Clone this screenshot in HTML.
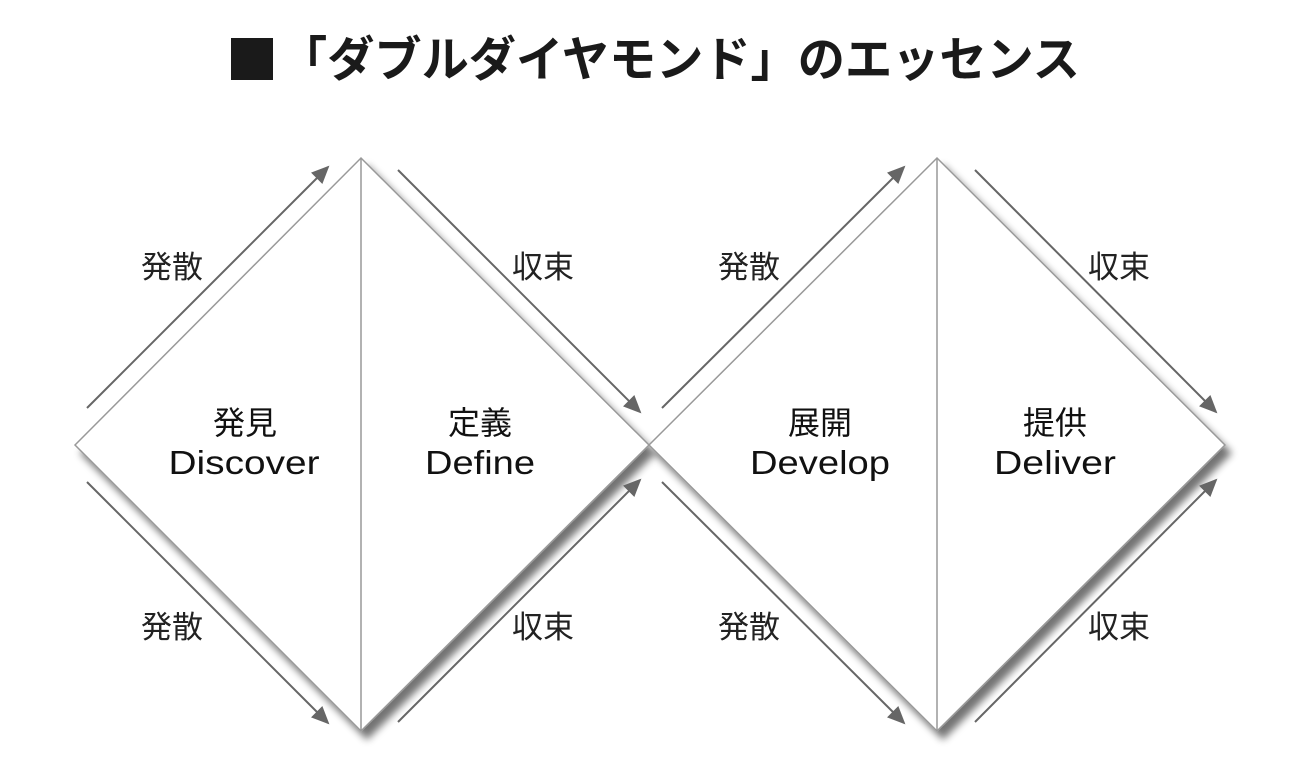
<!DOCTYPE html>
<html><head><meta charset="utf-8">
<style>
html,body{margin:0;padding:0;background:#fff;}
body{width:1300px;height:783px;overflow:hidden;}
svg{display:block;}
</style></head>
<body>
<svg width="1300" height="783" viewBox="0 0 1300 783" xmlns="http://www.w3.org/2000/svg">
<defs>
<filter id="sh" x="-10%" y="-10%" width="130%" height="130%">
<feGaussianBlur in="SourceAlpha" stdDeviation="4"/>
<feOffset dx="6" dy="8" result="b"/>
<feComponentTransfer><feFuncA type="linear" slope="0.55"/></feComponentTransfer>
<feMerge><feMergeNode/><feMergeNode in="SourceGraphic"/></feMerge>
</filter>
<marker id="ah" markerWidth="9" markerHeight="8" refX="8" refY="4" orient="auto" markerUnits="strokeWidth">
<path d="M0,0 L9,4 L0,8 z" fill="#666"/>
</marker>
</defs>
<rect x="231" y="38" width="42" height="42" fill="#1a1a1a"/>
<text x="680" y="76" text-anchor="middle" font-family="'Liberation Sans','Noto Sans CJK JP',sans-serif" font-weight="bold" font-size="48" fill="#1a1a1a" textLength="800" lengthAdjust="spacingAndGlyphs">「ダブルダイヤモンド」のエッセンス</text>

<g filter="url(#sh)">
<polygon points="75,445 361,158 649,445 361,731" fill="#fff" stroke="#999" stroke-width="1.5"/>
<polygon points="649,445 937,158 1225,445 937,731" fill="#fff" stroke="#999" stroke-width="1.5"/>
</g>
<line x1="361" y1="158" x2="361" y2="731" stroke="#999" stroke-width="1.5"/>
<line x1="937" y1="158" x2="937" y2="731" stroke="#999" stroke-width="1.5"/>

<g stroke="#666" stroke-width="2" marker-end="url(#ah)">
<line x1="87" y1="408" x2="328" y2="167"/>
<line x1="398" y1="170" x2="640" y2="412"/>
<line x1="87" y1="482" x2="328" y2="723"/>
<line x1="398" y1="722" x2="640" y2="480"/>
<line x1="662" y1="408" x2="904" y2="167"/>
<line x1="975" y1="170" x2="1216" y2="412"/>
<line x1="662" y1="482" x2="904" y2="723"/>
<line x1="975" y1="722" x2="1216" y2="480"/>
</g>

<g font-family="'Liberation Sans','Noto Sans CJK JP',sans-serif" font-size="31" fill="#222" text-anchor="middle">
<text x="172" y="278">発散</text>
<text x="172" y="638">発散</text>
<text x="543" y="278">収束</text>
<text x="543" y="638">収束</text>
<text x="749" y="278">発散</text>
<text x="749" y="638">発散</text>
<text x="1119" y="278">収束</text>
<text x="1119" y="638">収束</text>
</g>
<g font-family="'Liberation Sans','Noto Sans CJK JP',sans-serif" font-size="32" fill="#111" text-anchor="middle">
<text x="245" y="434">発見</text>
<text x="480" y="434">定義</text>
<text x="820" y="434">展開</text>
<text x="1055" y="434">提供</text>
</g>
<g font-family="'Liberation Sans',sans-serif" font-size="33" fill="#111" text-anchor="middle">
<text x="244" y="474" textLength="151" lengthAdjust="spacingAndGlyphs">Discover</text>
<text x="480" y="474" textLength="110" lengthAdjust="spacingAndGlyphs">Define</text>
<text x="820" y="474" textLength="140" lengthAdjust="spacingAndGlyphs">Develop</text>
<text x="1055" y="474" textLength="122" lengthAdjust="spacingAndGlyphs">Deliver</text>
</g>
</svg>
</body></html>
